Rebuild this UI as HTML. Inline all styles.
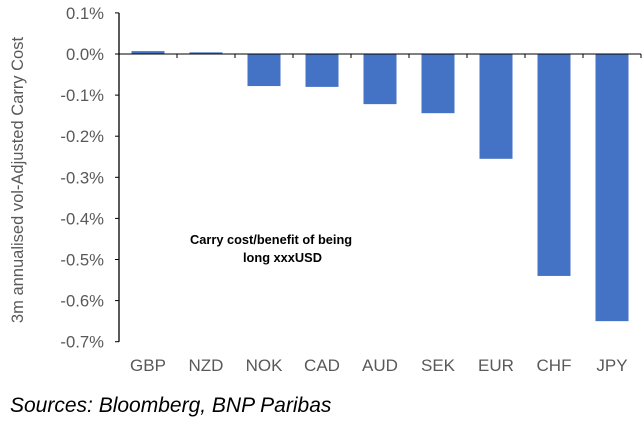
<!DOCTYPE html>
<html><head><meta charset="utf-8"><style>
body{margin:0;background:#fff;width:644px;height:426px;overflow:hidden;font-family:"Liberation Sans",sans-serif}
</style></head><body>
<svg width="644" height="426" id="chart">
<g id="g"></g>
<text x="190" y="244" font-size="12.8" font-weight="bold" fill="#000">Carry cost/benefit of being</text>
<text x="243" y="262" font-size="12.8" font-weight="bold" fill="#000">long xxxUSD</text>
<text transform="translate(23,180) rotate(-90)" text-anchor="middle" font-size="16.5" fill="#595959">3m annualised vol-Adjusted Carry Cost</text>
<text x="10" y="412" font-size="21" font-style="italic" fill="#000">Sources: Bloomberg, BNP Paribas</text>
</svg>
<script>
const categories=["GBP","NZD","NOK","CAD","AUD","SEK","EUR","CHF","JPY"];
const values=[0.007,0.004,-0.078,-0.08,-0.122,-0.144,-0.255,-0.54,-0.65];
const yTicks=[0.1,0,-0.1,-0.2,-0.3,-0.4,-0.5,-0.6,-0.7];
const tickLabels=["0.1%","0.0%","-0.1%","-0.2%","-0.3%","-0.4%","-0.5%","-0.6%","-0.7%"];
const NS="http://www.w3.org/2000/svg",g=document.getElementById('g');
const x0=119,step=58,bw=33;
const y=v=>54-(v*411);
function mk(t,a){const e=document.createElementNS(NS,t);for(const k in a)e.setAttribute(k,a[k]);g.appendChild(e);return e;}
values.forEach((v,i)=>{const cx=x0+step*(i+0.5);const r=mk('rect',{x:cx-bw/2,y:Math.min(y(v),y(0)),width:bw,height:Math.abs(y(v)-y(0)),fill:'#4472C4'});


const t=mk('text',{x:cx,y:371,'text-anchor':'middle','font-size':17,fill:'#595959'});t.textContent=categories[i];


mk('line',{x1:x0+step*(i+1),x2:x0+step*(i+1),y1:y(0),y2:y(0)+4,stroke:'#000'});});
const ax=mk('line',{x1:x0,x2:x0,y1:y(0.1),y2:y(-0.7),stroke:'#000','stroke-width':1.3});


const zl=mk('line',{x1:x0,x2:x0+step*9,y1:y(0),y2:y(0),stroke:'#000','stroke-width':1});


yTicks.forEach((v,i)=>{mk('line',{x1:x0-4,x2:x0,y1:y(v),y2:y(v),stroke:'#000'});
const t=mk('text',{x:104,y:y(v)+6,'text-anchor':'end','font-size':16.7,fill:'#595959'});t.textContent=tickLabels[i];

});
</script>
</body></html>
